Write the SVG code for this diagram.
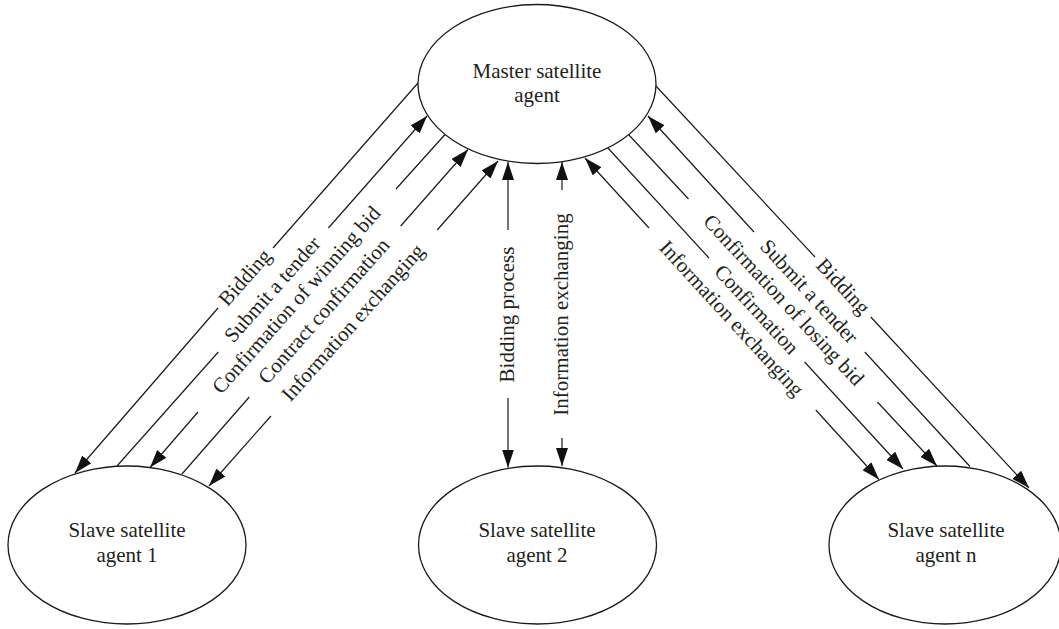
<svg xmlns="http://www.w3.org/2000/svg" width="1059" height="629" viewBox="0 0 1059 629">
  <style>
    .node { fill: #ffffff; stroke: #1a1a1a; stroke-width: 1.3; }
    .ntxt { font-family: "Liberation Serif", "Times New Roman", serif; font-size: 21px; fill: #231f20; text-anchor: middle; }
    .lbl { font-family: "Liberation Serif", "Times New Roman", serif; font-size: 21px; fill: #231f20; text-anchor: middle; }
    .edge { fill: none; stroke: #1a1a1a; stroke-width: 1.2; }
    .fwd { marker-end: url(#arrow); }
    .both { marker-start: url(#arrow); marker-end: url(#arrow); }
  </style>
  <defs>
    <marker id="arrow" markerUnits="userSpaceOnUse" markerWidth="18" markerHeight="12" refX="18" refY="6" orient="auto-start-reverse">
      <path d="M0,0 L18,6 L0,12 Z" fill="#111111"/>
    </marker>
  </defs>
  <rect width="1059" height="629" fill="#ffffff"/>

  <!-- connectors: each line is split where its label sits -->
  <g id="connectors">
    <!-- master to slave 1 -->
    <path class="edge fwd" d="M418,83 L273,248 M218,308 L75,473"/>
    <path class="edge fwd" d="M117,466 L218.3,352 M328.4,228 L427,116"/>
    <path class="edge fwd" d="M445,134.5 L396,189 M198,412 L150,467.5"/>
    <path class="edge fwd" d="M182,474 L249.3,397 M400.7,226 L468,149.5"/>
    <path class="edge both" d="M498,161 L437.2,230 M271,416 L209,486"/>
    <!-- master to slave 2 -->
    <path class="edge both" d="M508,162 L508,230 M508,398 L508,467.5"/>
    <path class="edge both" d="M562,162 L562,190 M562,438 L562,466"/>
    <!-- master to slave n -->
    <path class="edge fwd" d="M655,85 L815,257 M870.8,317 L1029,488"/>
    <path class="edge fwd" d="M970,466.5 L864.8,352 M754,232 L648,116"/>
    <path class="edge fwd" d="M628,134 L688.5,199 M877.4,402 L937,466"/>
    <path class="edge fwd" d="M607,147 L709,258 M804.6,362 L903,469"/>
    <path class="edge both" d="M585,158 L649,228 M815.8,410 L879,479.5"/>
  </g>

  <!-- connector labels -->
  <g id="labels">
    <text class="lbl" transform="translate(245.5,278) rotate(-48.6)" y="6">Bidding</text>
    <text class="lbl" transform="translate(273,290) rotate(-48.4)" y="6">Submit a tender</text>
    <text class="lbl" transform="translate(297,300.5) rotate(-48.4)" y="6">Confirmation of winning bid</text>
    <text class="lbl" transform="translate(324.5,311.5) rotate(-48.5)" y="6">Contract confirmation</text>
    <text class="lbl" transform="translate(353.5,323) rotate(-48.2)" y="6">Information exchanging</text>

    <text class="lbl" transform="translate(508,314.5) rotate(-90)" y="6">Bidding process</text>
    <text class="lbl" transform="translate(562,314.5) rotate(-90)" y="6">Information exchanging</text>

    <text class="lbl" transform="translate(842.5,287) rotate(47.1)" y="6">Bidding</text>
    <text class="lbl" transform="translate(808.5,292) rotate(47.3)" y="6">Submit a tender</text>
    <text class="lbl" transform="translate(783,300.5) rotate(47.1)" y="6">Confirmation of losing bid</text>
    <text class="lbl" transform="translate(756,310) rotate(47.4)" y="6">Confirmation</text>
    <text class="lbl" transform="translate(731,319) rotate(47.5)" y="6">Information exchanging</text>
  </g>

  <!-- nodes -->
  <g id="master">
    <ellipse class="node" cx="537" cy="84" rx="119" ry="79.5"/>
    <text class="ntxt" x="537" y="77.5">Master satellite</text>
    <text class="ntxt" x="537" y="101.5">agent</text>
  </g>
  <g id="slave1">
    <ellipse class="node" cx="127" cy="545" rx="119" ry="79"/>
    <text class="ntxt" x="127" y="537">Slave satellite</text>
    <text class="ntxt" x="127" y="562">agent 1</text>
  </g>
  <g id="slave2">
    <ellipse class="node" cx="537.5" cy="545" rx="119" ry="79"/>
    <text class="ntxt" x="537" y="537">Slave satellite</text>
    <text class="ntxt" x="537" y="562">agent 2</text>
  </g>
  <g id="slaven">
    <ellipse class="node" cx="945" cy="545" rx="116" ry="79"/>
    <text class="ntxt" x="946" y="537">Slave satellite</text>
    <text class="ntxt" x="946" y="562">agent n</text>
  </g>
</svg>
